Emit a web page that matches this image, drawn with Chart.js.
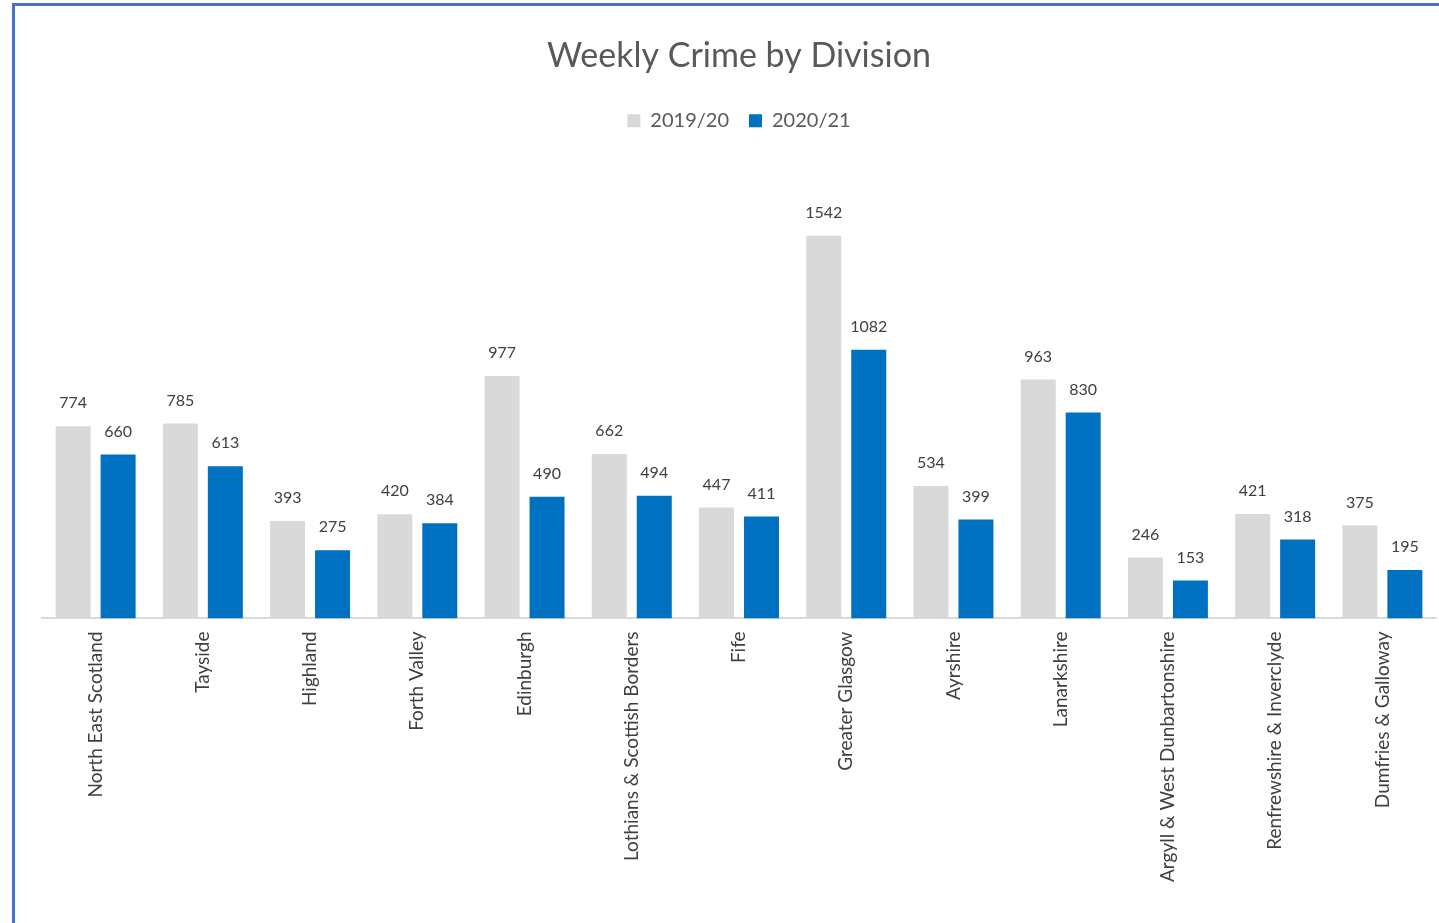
<!DOCTYPE html>
<html>
<head>
<meta charset="utf-8">
<script src="https://cdn.jsdelivr.net/npm/chart.js@4.4.1/dist/chart.umd.min.js"></script>
<style>
  html, body { margin: 0; padding: 0; background: #fff; overflow: hidden; }
  #frame { position: absolute; left: 12px; top: 3px; width: 1440px; height: 930px;
           border-left: 3px solid #4472C4; border-top: 3px solid #4472C4; }
  #chart { position: absolute; left: 0; top: 0; }
</style>
</head>
<body>
<canvas id="chart" width="1450" height="923"></canvas>
<div id="frame"></div>
<script>
const divisions = [
    "North East Scotland", "Tayside", "Highland", "Forth Valley", "Edinburgh",
    "Lothians & Scottish Borders", "Fife", "Greater Glasgow", "Ayrshire",
    "Lanarkshire", "Argyll & West Dunbartonshire", "Renfrewshire & Inverclyde",
    "Dumfries & Galloway"
]
const crimes1920 = [774, 785, 393, 420, 977, 662, 447, 1542, 534, 963, 246, 421, 375]
const crimes2021 = [660, 613, 275, 384, 490, 494, 411, 1082, 399, 830, 153, 318, 195]

const font = "Lato, 'Open Sans', sans-serif"

// value labels above each bar
const barLabels = {
    id: "barLabels",
    afterDatasetsDraw(chart) {
        const ctx = chart.ctx
        ctx.save()
        ctx.font = "16px " + font
        ctx.fillStyle = "#404040"
        ctx.textAlign = "center"
        ctx.textBaseline = "middle"
        chart.data.datasets.forEach((ds, i) => {
            chart.getDatasetMeta(i).data.forEach((bar, j) => {
                ctx.fillText(ds.data[j], bar.x, bar.y - 23)
            })
        })
        ctx.restore()
    }
}

new Chart(
    document.getElementById("chart").getContext("2d"),
    {
        type: "bar",
        data: {
            labels: divisions,
            datasets: [
                {
                    label: "2019/20",
                    data: crimes1920,
                    backgroundColor: "#D9D9D9"
                },
                {
                    label: "2020/21",
                    data: crimes2021,
                    backgroundColor: "#0070C0"
                }
            ]
        },
        plugins: [barLabels],
        options: {
            responsive: false,
            animation: false,
            devicePixelRatio: 1,
            categoryPercentage: 0.839,
            barPercentage: 0.778,
            layout: {
                padding: { left: 42, right: 14, top: 36, bottom: 28 }
            },
            scales: {
                x: {
                    grid: { display: false, drawTicks: false },
                    border: { color: "#D9D9D9", width: 2 },
                    ticks: {
                        minRotation: 90,
                        maxRotation: 90,
                        padding: 13,
                        color: "#404040",
                        font: { family: font, size: 19 }
                    }
                },
                y: {
                    display: false,
                    min: 0,
                    max: 1924
                }
            },
            plugins: {
                title: {
                    display: true,
                    text: "Weekly Crime by Division",
                    color: "#595959",
                    font: { family: font, size: 34, weight: "normal" },
                    padding: { top: 0, bottom: 14 }
                },
                legend: {
                    labels: {
                        boxWidth: 13,
                        boxHeight: 13,
                        padding: 20,
                        color: "#595959",
                        font: { family: font, size: 20 }
                    }
                },
                tooltip: { enabled: false }
            }
        }
    }
)
</script>
</body>
</html>
